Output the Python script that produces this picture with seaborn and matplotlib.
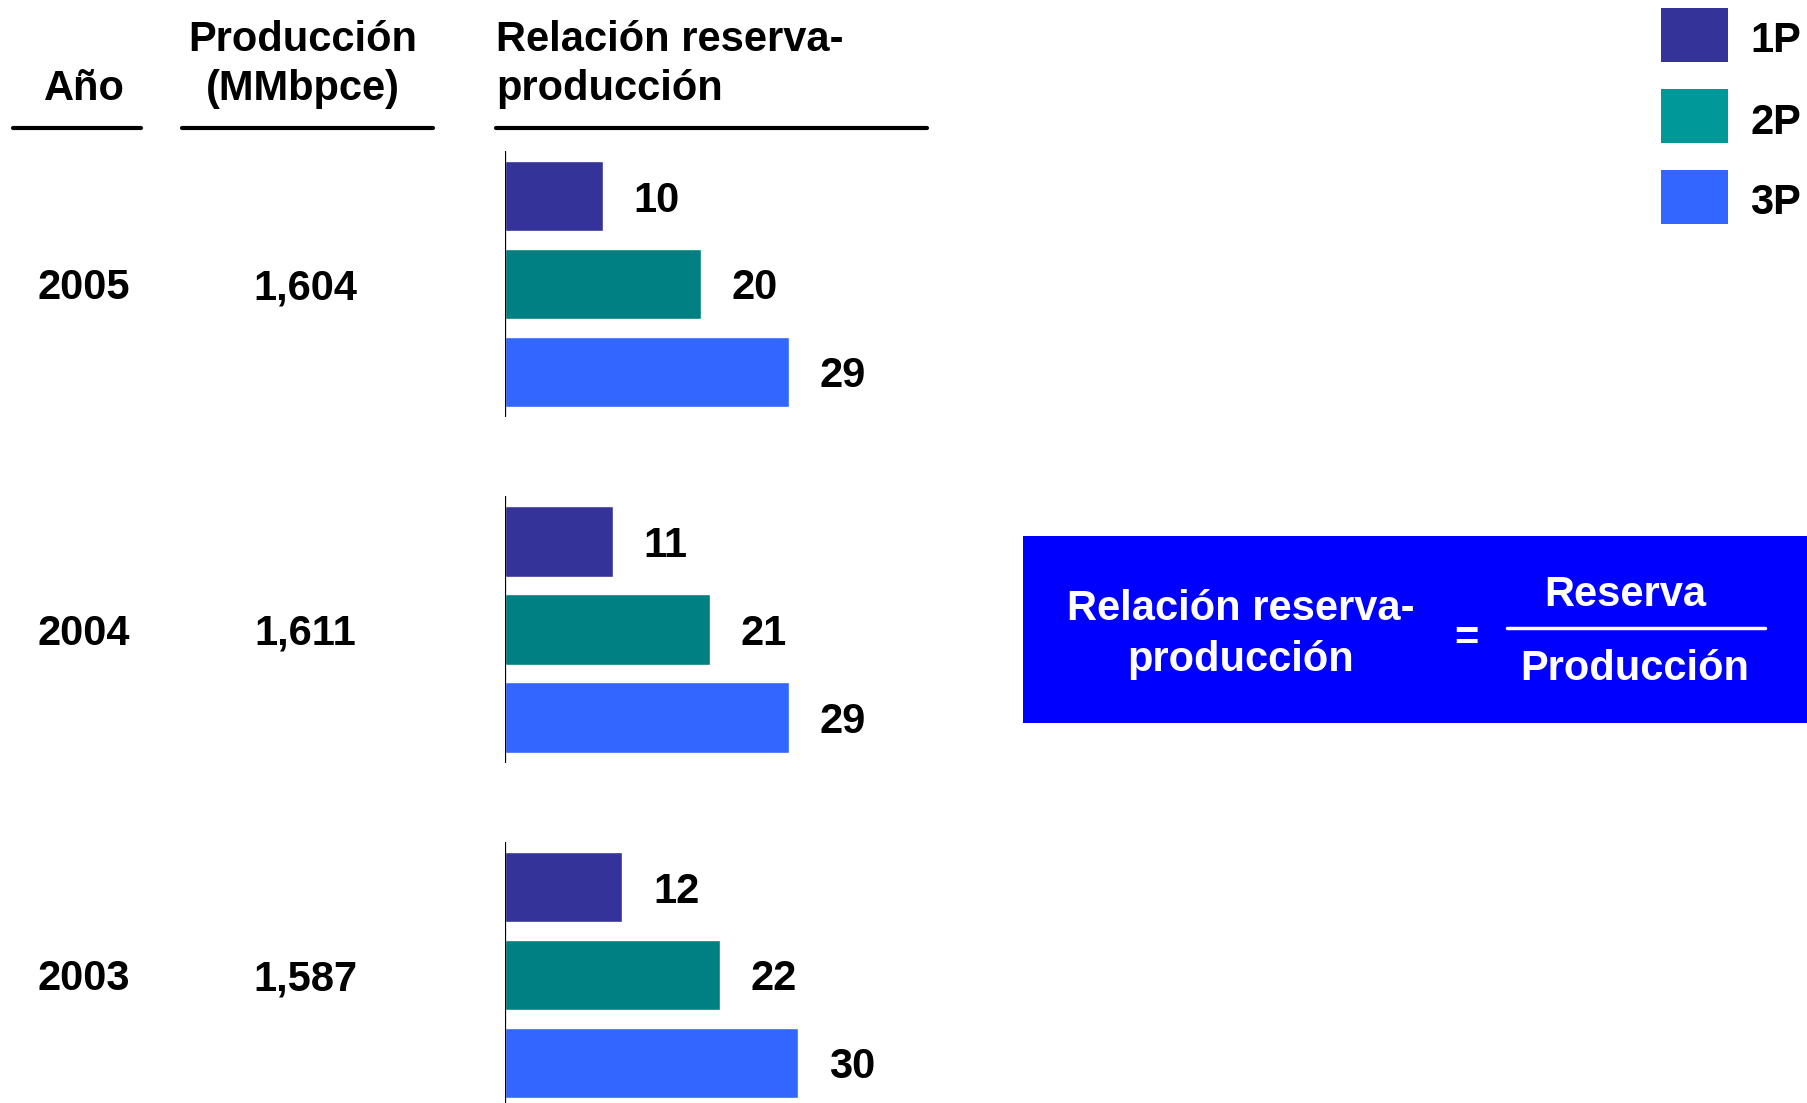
import numpy as np
import pandas as pd
import matplotlib.pyplot as plt
import seaborn as sns
from matplotlib.patches import Rectangle
from matplotlib.lines import Line2D
from matplotlib.transforms import blended_transform_factory

# =========================
# datos
# =========================
anios = ["2005", "2004", "2003"]
produccion = [1604, 1611, 1587]
tipos = ["1P", "2P", "3P"]
rel_1p = [10, 11, 12]
rel_2p = [20, 21, 22]
rel_3p = [29, 29, 30]

colores_barras = ["#333399", "#008080", "#3366FF"]
colores_leyenda = ["#333399", "#009999", "#3366FF"]

W, H = 1807, 1103


def fx(px):
    return px / W


def fy(py):
    return 1 - py / H


df = pd.DataFrame({
    "anio": np.repeat(anios, len(tipos)),
    "tipo": tipos * len(anios),
    "valor": [v for fila in zip(rel_1p, rel_2p, rel_3p) for v in fila],
})

sns.set_style("white")
plt.rcParams["font.family"] = ["Liberation Sans", "DejaVu Sans"]
plt.rcParams["font.weight"] = "bold"
plt.rcParams["text.color"] = "black"

fig = plt.figure(figsize=(W / 100, H / 100), dpi=100)

# =========================
# barras
# =========================
ax = fig.add_axes([fx(505), fy(1103), fx(1000) - fx(505), fy(130) - fy(1103)])
sns.barplot(
    data=df, x="valor", y="anio", hue="tipo", orient="h",
    order=anios, hue_order=tipos, palette=colores_barras,
    saturation=1, width=0.763, gap=0.2, legend=False, ax=ax,
)
ax.set_xlim(0, 50.6)
ax.set_ylim(2.3705, -0.4457)
ax.axis("off")

for i in range(len(anios)):
    ax.vlines(0, i - 0.386, i + 0.386, color="black", lw=1.6, zorder=5)

for cont in ax.containers:
    etiquetas = ax.bar_label(cont, fmt="%d", padding=22, fontsize=30,
                             fontweight="bold", color="black")
    for t in etiquetas:
        t.set_va("center_baseline")

# columnas de texto
trans = blended_transform_factory(fig.transFigure, ax.transData)
for i, (a, p) in enumerate(zip(anios, produccion)):
    ax.text(fx(84), i, a, transform=trans, ha="center", va="center_baseline",
            fontsize=30, fontweight="bold", color="black")
    ax.text(fx(305), i, f"{p:,}", transform=trans, ha="center", va="center_baseline",
            fontsize=30, fontweight="bold", color="black")

# =========================
# encabezados
# =========================
fig.text(fx(84), fy(100), "Año", ha="center", va="baseline", fontsize=30, fontweight="bold")
fig.text(fx(303), fy(51), "Producción", ha="center", va="baseline", fontsize=30, fontweight="bold")
fig.text(fx(303), fy(100), "(MMbpce)", ha="center", va="baseline", fontsize=30, fontweight="bold")
fig.text(fx(496), fy(51), "Relación reserva-", ha="left", va="baseline", fontsize=30, fontweight="bold")
fig.text(fx(496), fy(100), "producción", ha="left", va="baseline", fontsize=30, fontweight="bold")

for x0, x1 in [(13, 141), (182, 433), (496, 927)]:
    fig.add_artist(Line2D([fx(x0), fx(x1)], [fy(128), fy(128)], color="black", lw=3))

# =========================
# leyenda
# =========================
for i, (lab, col) in enumerate(zip(tipos, colores_leyenda)):
    top = 8 + i * 81
    fig.add_artist(Rectangle((fx(1661), fy(top + 54)), fx(1728) - fx(1661), fy(top) - fy(top + 54),
                             facecolor=col, edgecolor="none", transform=fig.transFigure))
    fig.text(fx(1750), fy(top + 29), lab, ha="left", va="center_baseline",
             fontsize=30, fontweight="bold")

# =========================
# recuadro de la fórmula
# =========================
fig.add_artist(Rectangle((fx(1023), fy(723)), fx(1807) - fx(1023), fy(536) - fy(723),
                         facecolor="#0000FF", edgecolor="none", transform=fig.transFigure))
fig.text(fx(1241), fy(604), "Relación reserva-", ha="center", va="center_baseline",
         color="white", fontsize=30, fontweight="bold")
fig.text(fx(1241), fy(655), "producción", ha="center", va="center_baseline",
         color="white", fontsize=30, fontweight="bold")
fig.text(fx(1466), fy(634), "=", ha="center", va="center_baseline",
         color="white", fontsize=30, fontweight="bold")
fig.text(fx(1625), fy(591), "Reserva", ha="center", va="center_baseline",
         color="white", fontsize=30, fontweight="bold")
fig.text(fx(1635), fy(665), "Producción", ha="center", va="center_baseline",
         color="white", fontsize=30, fontweight="bold")
fig.add_artist(Line2D([fx(1507), fx(1765)], [fy(628), fy(628)], color="white", lw=2.5))

fig.savefig("out.png", dpi=100)
plt.close(fig)
